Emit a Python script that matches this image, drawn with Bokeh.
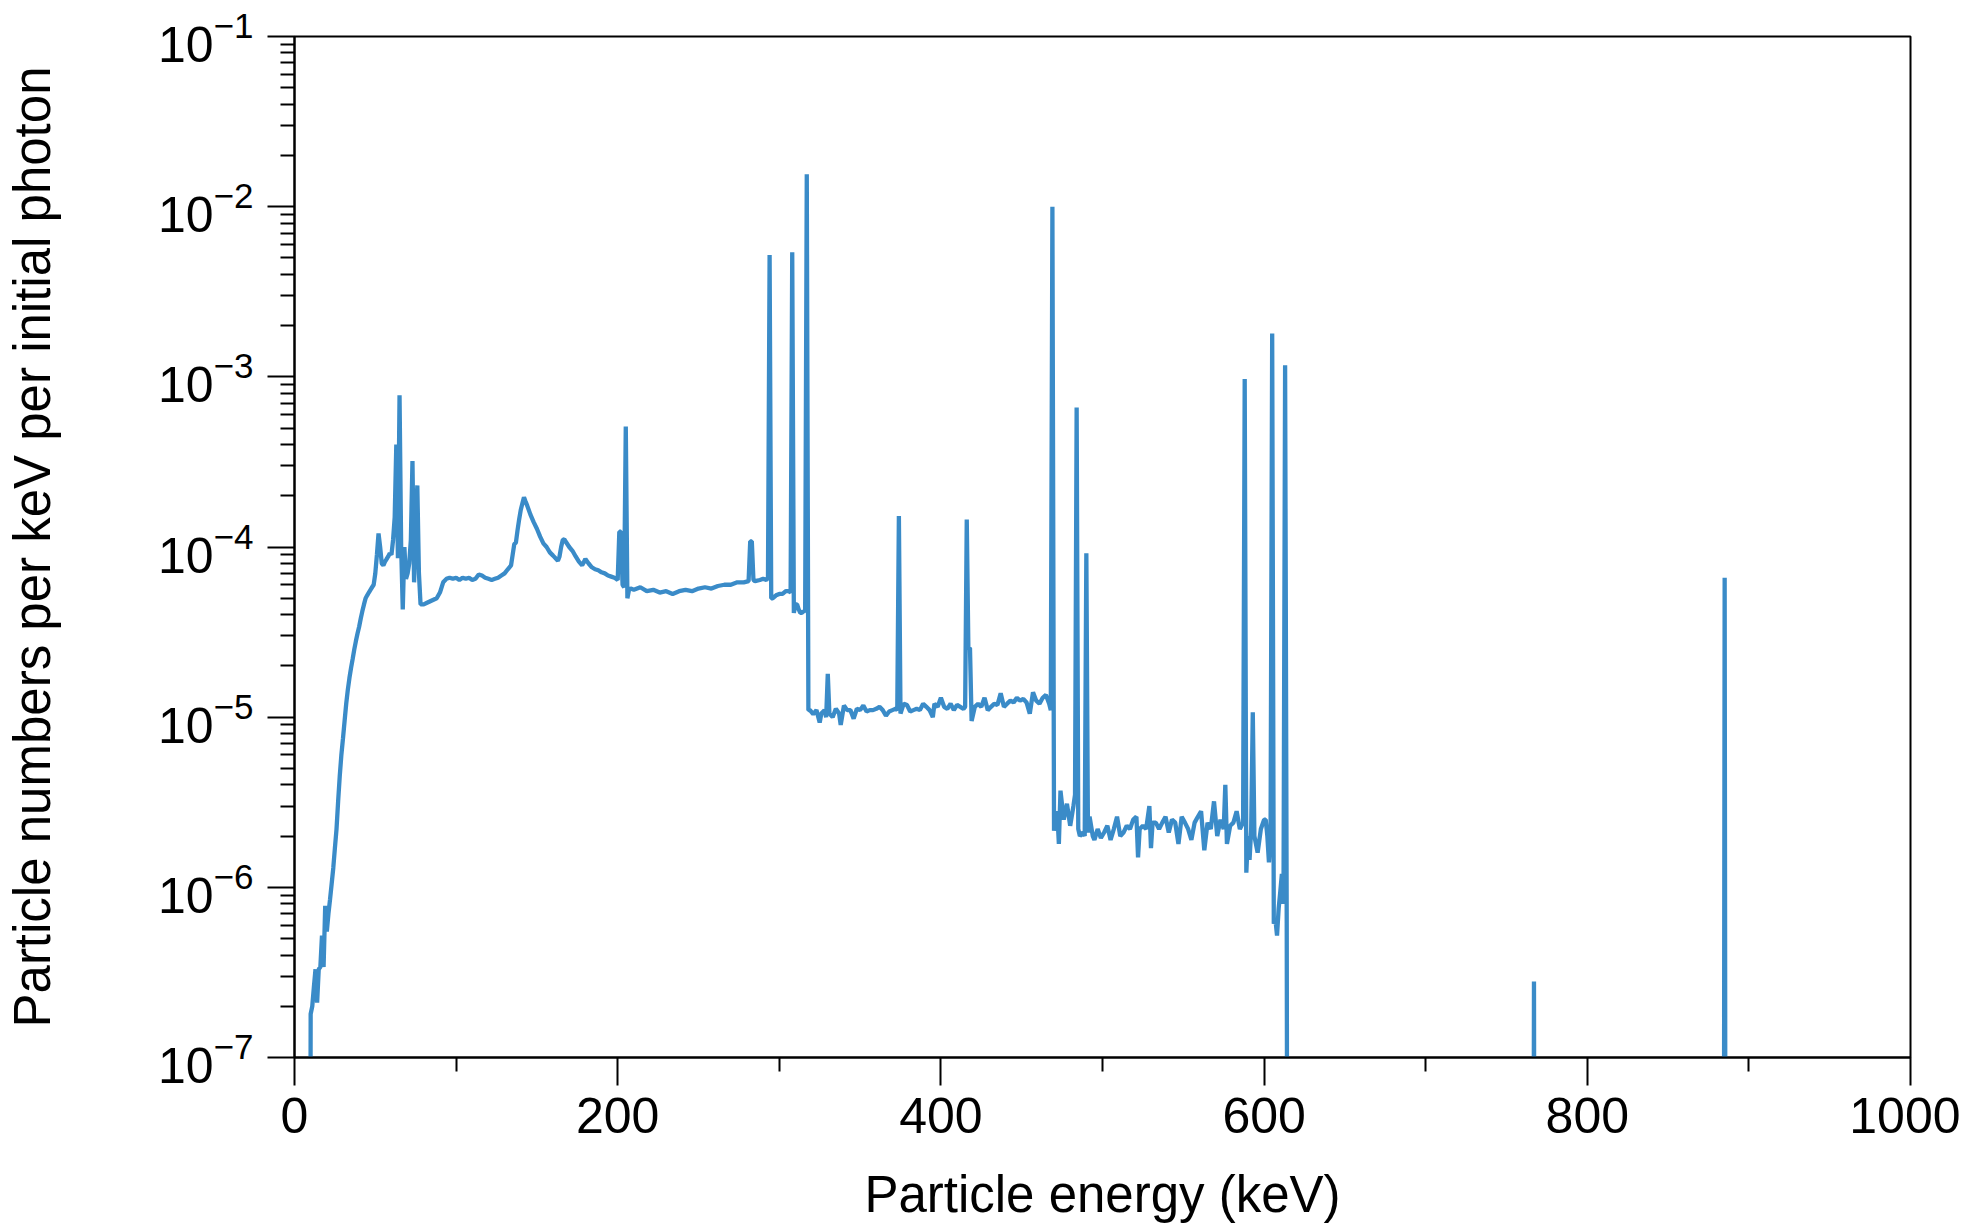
from bokeh.plotting import figure
from bokeh.models import Range1d, FixedTicker, ColumnDataSource
from bokeh.embed import file_html
from bokeh.resources import INLINE

ZERO = 1e-12  # empty bins (below the plotted range)

# --- spectrum (energy in keV, value per keV per photon) ---
seg1_energy = [0, 9, 10, 11, 12, 13, 14, 15, 16, 17, 18, 19, 20, 21, 22, 23, 24, 25, 26, 27, 28, 29, 30,
               31, 32, 33, 34, 35, 36, 37, 38, 39, 40, 41, 42, 43, 44, 45, 46, 47, 48, 49, 50, 51, 52, 53,
               54, 55, 56, 57, 58, 59, 60]
seg1_flux = [ZERO, ZERO, 1.8e-7, 2.0e-7, 2.6e-7, 3.3e-7, 2.1e-7, 3.3e-7, 3.4e-7, 5.2e-7, 3.4e-7, 7.8e-7,
             5.5e-7, 7.0e-7, 8.5e-7, 1.05e-6, 1.3e-6, 1.7e-6, 2.2e-6, 3.2e-6, 4.5e-6, 6.0e-6, 7.5e-6,
             9.5e-6, 1.2e-5, 1.45e-5, 1.7e-5, 1.95e-5, 2.2e-5, 2.5e-5, 2.8e-5, 3.1e-5, 3.4e-5, 3.8e-5,
             4.2e-5, 4.6e-5, 5.0e-5, 5.2e-5, 5.4e-5, 5.6e-5, 5.8e-5, 6.0e-5, 7.0e-5, 9.0e-5, 1.2e-4,
             1.0e-4, 8.0e-5, 7.8e-5, 8.2e-5, 8.5e-5, 8.8e-5, 9.2e-5, 9.0e-5]

seg2_energy = [61, 62, 63, 64, 65, 66, 67, 68, 69, 70, 71, 72, 73, 74, 75, 76, 77, 78, 80, 82, 84, 86,
               88, 90, 92, 94, 96]
seg2_flux = [1.1e-4, 1.5e-4, 4.0e-4, 8.6e-5, 7.8e-4, 1.0e-4, 4.3e-5, 1.0e-4, 6.5e-5, 7.0e-5, 8.0e-5,
             1.1e-4, 3.2e-4, 6.2e-5, 1.2e-4, 2.3e-4, 7.0e-5, 4.6e-5, 4.6e-5, 4.7e-5, 4.8e-5, 4.9e-5,
             5.0e-5, 5.4e-5, 6.2e-5, 6.5e-5, 6.6e-5]

seg3_energy = [98, 100, 102, 104, 106, 108, 110, 112, 114, 116, 118, 120, 122, 124, 126, 128, 130, 132,
               134, 135, 136, 137, 138, 139, 140, 141, 142, 143, 144, 146, 148, 150, 152, 154, 156, 158,
               160, 162, 163, 164, 165, 166, 167, 168, 170, 172, 174, 176, 178, 180, 182, 184, 186, 188,
               190, 192, 194, 196, 198, 199]
seg3_flux = [6.5e-5, 6.6e-5, 6.4e-5, 6.6e-5, 6.5e-5, 6.6e-5, 6.4e-5, 6.5e-5, 6.9e-5, 6.8e-5, 6.6e-5,
             6.5e-5, 6.4e-5, 6.5e-5, 6.6e-5, 6.8e-5, 7.0e-5, 7.4e-5, 7.8e-5, 9.0e-5, 1.04e-4, 1.06e-4,
             1.25e-4, 1.45e-4, 1.65e-4, 1.8e-4, 1.96e-4, 1.85e-4, 1.75e-4, 1.55e-4, 1.4e-4, 1.28e-4,
             1.15e-4, 1.05e-4, 1.0e-4, 9.3e-5, 8.9e-5, 8.5e-5, 8.3e-5, 8.8e-5, 1.0e-4, 1.1e-4, 1.11e-4,
             1.07e-4, 1.0e-4, 9.5e-5, 8.8e-5, 8.2e-5, 7.8e-5, 8.5e-5, 8.0e-5, 7.6e-5, 7.4e-5, 7.3e-5,
             7.1e-5, 7.0e-5, 6.8e-5, 6.7e-5, 6.6e-5, 6.5e-5]

seg4_energy = [200, 201, 202, 203, 204, 205, 206, 207, 208, 210, 214, 218, 222, 226, 230, 234, 238, 242,
               246, 250, 254, 258, 262, 266, 270, 274, 278, 281, 282, 283, 284, 285, 288, 290, 292, 293,
               294, 295, 296, 298, 300, 302, 304, 306, 307, 308, 309, 310, 311, 312, 313, 314, 315, 316,
               317, 318]
seg4_flux = [6.4e-5, 1.23e-4, 1.23e-4, 6.0e-5, 5.8e-5, 5.1e-4, 5.0e-5, 5.6e-5, 5.7e-5, 5.6e-5, 5.8e-5,
             5.5e-5, 5.6e-5, 5.4e-5, 5.5e-5, 5.3e-5, 5.5e-5, 5.6e-5, 5.5e-5, 5.7e-5, 5.8e-5, 5.7e-5,
             5.9e-5, 6.0e-5, 6.0e-5, 6.2e-5, 6.2e-5, 6.3e-5, 1.08e-4, 1.08e-4, 6.4e-5, 6.3e-5, 6.4e-5,
             6.5e-5, 6.4e-5, 6.6e-5, 5.2e-3, 5.0e-5, 5.0e-5, 5.2e-5, 5.3e-5, 5.3e-5, 5.5e-5, 5.5e-5,
             5.4e-5, 5.4e-3, 4.1e-5, 4.6e-5, 4.6e-5, 4.3e-5, 4.1e-5, 4.1e-5, 4.2e-5, 4.2e-5, 1.55e-2,
             1.1e-5]

seg5_energy = [319, 321, 323, 325, 326, 328, 329, 330, 331, 333, 335, 337, 338, 340, 342, 344, 346, 348,
               350, 352, 354, 356, 358, 360, 362, 364, 366, 368, 370, 372, 373, 374, 375, 377, 379, 381,
               383, 385, 387, 389, 391, 393, 395, 396, 398, 400, 402, 404, 406, 408, 410, 412, 414, 415,
               416, 417, 418, 419, 421, 423, 425, 427, 429, 431, 433, 435, 437, 439, 441, 443, 445, 447,
               449, 451, 453, 455, 457, 459, 461, 463, 465, 467, 468, 469, 470]
seg5_flux = [1.1e-5, 1.04e-5, 1.1e-5, 9.3e-6, 1.05e-5, 1.1e-5, 1.0e-5, 1.8e-5, 1.05e-5, 1.0e-5, 1.12e-5,
             1.05e-5, 9.0e-6, 1.17e-5, 1.1e-5, 1.1e-5, 9.8e-6, 1.12e-5, 1.1e-5, 1.17e-5, 1.08e-5, 1.1e-5,
             1.1e-5, 1.12e-5, 1.15e-5, 1.1e-5, 1.02e-5, 1.08e-5, 1.1e-5, 1.12e-5, 1.1e-5, 1.52e-4,
             1.05e-5, 1.2e-5, 1.18e-5, 1.08e-5, 1.1e-5, 1.12e-5, 1.1e-5, 1.2e-5, 1.15e-5, 1.1e-5,
             1.0e-5, 1.2e-5, 1.15e-5, 1.3e-5, 1.15e-5, 1.12e-5, 1.2e-5, 1.1e-5, 1.18e-5, 1.15e-5,
             1.12e-5, 1.15e-5, 1.45e-4, 2.55e-5, 2.55e-5, 9.5e-6, 1.15e-5, 1.2e-5, 1.15e-5, 1.3e-5,
             1.1e-5, 1.15e-5, 1.2e-5, 1.18e-5, 1.38e-5, 1.15e-5, 1.2e-5, 1.25e-5, 1.22e-5, 1.3e-5,
             1.25e-5, 1.28e-5, 1.22e-5, 1.05e-5, 1.4e-5, 1.25e-5, 1.2e-5, 1.3e-5, 1.35e-5, 1.2e-5,
             1.1e-5, 1.0e-2, 2.15e-6]

seg6_energy = [471, 472, 473, 474, 476, 478, 480, 482, 483, 484, 485, 486, 488, 489, 490, 491, 492, 494,
               495, 497, 499, 501, 503, 505, 507, 509, 511, 513, 515, 517, 519, 521, 522, 523, 525, 527,
               529, 530, 531, 533, 535, 537, 539, 541, 543, 545, 547, 549, 551, 553, 555, 557, 559, 561,
               563, 565, 567, 569, 571, 573, 575, 576, 577, 579, 581, 583, 585, 587, 588, 589, 590, 591,
               592, 593, 594, 596, 598, 600, 601, 602, 603, 604, 605, 606, 607, 608, 609, 610, 611, 612,
               613, 614, 615]
seg6_flux = [2.5e-6, 2.8e-6, 1.8e-6, 3.7e-6, 2.5e-6, 3.1e-6, 2.3e-6, 3.0e-6, 3.5e-6, 6.6e-4, 2.2e-6,
             2.0e-6, 2.1e-6, 2.0e-6, 9.2e-5, 2.1e-6, 2.6e-6, 2.0e-6, 1.9e-6, 2.2e-6, 1.95e-6, 2.1e-6,
             2.3e-6, 1.9e-6, 2.2e-6, 2.6e-6, 2.0e-6, 2.1e-6, 2.3e-6, 2.2e-6, 2.5e-6, 2.6e-6, 1.5e-6,
             2.2e-6, 2.3e-6, 2.2e-6, 3.0e-6, 1.7e-6, 2.4e-6, 2.4e-6, 2.2e-6, 2.4e-6, 2.6e-6, 2.1e-6,
             2.5e-6, 2.4e-6, 1.8e-6, 2.6e-6, 2.4e-6, 2.2e-6, 1.9e-6, 2.4e-6, 2.6e-6, 2.8e-6, 1.65e-6,
             2.4e-6, 2.2e-6, 3.2e-6, 2.0e-6, 2.5e-6, 2.2e-6, 4.0e-6, 1.8e-6, 2.3e-6, 2.4e-6, 2.8e-6,
             2.2e-6, 2.4e-6, 9.7e-4, 1.22e-6, 2.0e-6, 1.45e-6, 2.2e-6, 1.07e-5, 2.0e-6, 1.6e-6, 2.2e-6,
             2.5e-6, 2.5e-6, 2.0e-6, 1.4e-6, 2.0e-6, 1.8e-3, 6.1e-7, 6.5e-7, 5.2e-7, 7.5e-7, 9.4e-7,
             1.2e-6, 8.0e-7, 1.17e-3, 6.0e-7, ZERO]

seg7_energy = [616, 766, 767, 768, 884, 885, 886, 1000]
seg7_flux = [ZERO, ZERO, 2.8e-7, ZERO, ZERO, 6.6e-5, ZERO, ZERO]

# --- axes ---
x_major_ticks = [0, 200, 400, 600, 800, 1000]
x_minor_ticks = [100, 300, 500, 700, 900]
y_major_ticks = [1e-7, 1e-6, 1e-5, 1e-4, 1e-3, 1e-2, 1e-1]
y_minor_mantissas = [2, 3, 4, 5, 6, 7, 8, 9]

energy = (seg1_energy + seg2_energy + seg3_energy + seg4_energy + seg5_energy
          + seg6_energy + seg7_energy)
flux = seg1_flux + seg2_flux + seg3_flux + seg4_flux + seg5_flux + seg6_flux + seg7_flux
src = ColumnDataSource(dict(energy=energy, flux=flux))

y_minor_ticks = [m * d for d in y_major_ticks[:-1] for m in y_minor_mantissas]

FONT = "Liberation Sans"
p = figure(width=1960, height=1226, y_axis_type="log",
           x_range=Range1d(0, 1000), y_range=Range1d(1e-7, 1e-1),
           output_backend="svg", toolbar_location=None,
           min_border_left=294, min_border_right=50, min_border_top=36, min_border_bottom=169)

p.line("energy", "flux", source=src, line_color="#3a8bc8", line_width=4.3, line_join="bevel")

p.grid.visible = False
p.outline_line_color = "black"
p.outline_line_width = 2
p.background_fill_color = "white"
p.border_fill_color = "white"

p.xaxis.ticker = FixedTicker(ticks=x_major_ticks, minor_ticks=x_minor_ticks)
p.yaxis.ticker = FixedTicker(ticks=y_major_ticks, minor_ticks=y_minor_ticks)

for ax in (p.xaxis[0], p.yaxis[0]):
    ax.axis_line_width = 2
    ax.axis_line_color = "black"
    ax.major_tick_line_width = 2
    ax.minor_tick_line_width = 2
    ax.major_tick_in = 0
    ax.minor_tick_in = 0
    ax.major_label_text_font = FONT
    ax.major_label_text_font_size = "50px"
    ax.major_label_text_color = "black"
    ax.axis_label_text_font = FONT
    ax.axis_label_text_font_size = "51px"
    ax.axis_label_text_font_style = "normal"
    ax.axis_label_text_color = "black"

p.xaxis.major_tick_out = 28
p.xaxis.minor_tick_out = 14
p.yaxis.major_tick_out = 27
p.yaxis.minor_tick_out = 14
p.xaxis.major_label_standoff = 12
p.yaxis.major_label_standoff = 14
p.xaxis.axis_label = "Particle energy (keV)"
p.yaxis.axis_label = "Particle numbers per keV per initial photon"
p.xaxis.axis_label_standoff = 30
p.yaxis.axis_label_standoff = 94

open("out.html", "w").write(file_html(p, INLINE))
